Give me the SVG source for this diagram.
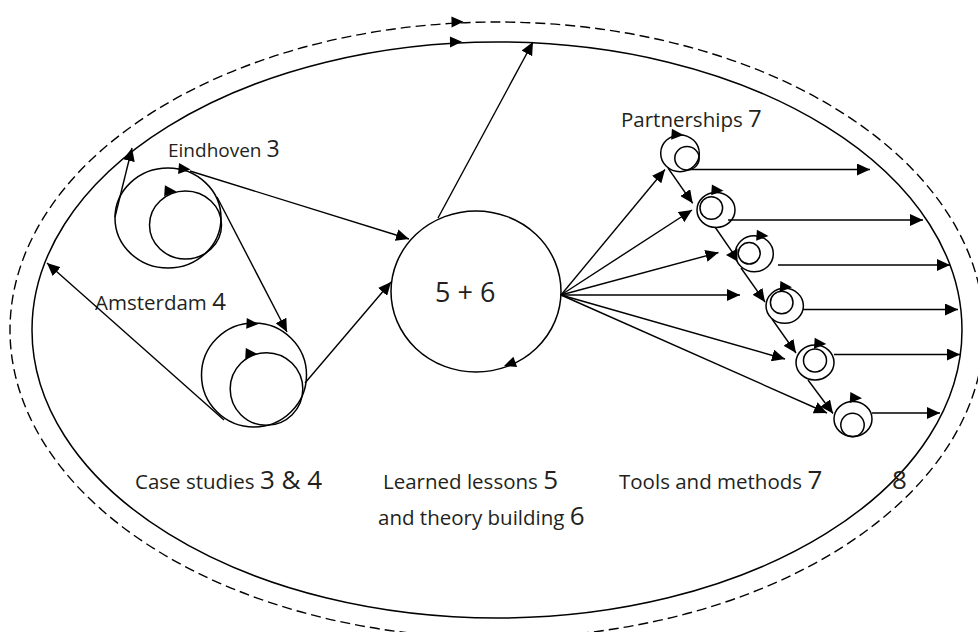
<svg xmlns="http://www.w3.org/2000/svg" width="978" height="632" viewBox="0 0 978 632">
  <style>
    .ln { fill: none; stroke: #000; stroke-width: 1.4; }
    .ring { fill: none; stroke: #000; stroke-width: 1.5; }
    .dash { fill: none; stroke: #000; stroke-width: 1.4; stroke-dasharray: 10 5; }
    .tri { fill: #000; }
    .lbl { font-family: "Open Sans", "Noto Sans", "Liberation Sans", sans-serif; font-size: 20.5px; fill: #231f20; }
    .num { font-size: 26px; }
  </style>
  <defs>
    <marker id="arrow" markerUnits="userSpaceOnUse" markerWidth="13" markerHeight="12" viewBox="0 0 13 12" refX="13" refY="6" orient="auto">
      <path d="M0,0 L13,6 L0,12 z" fill="#000"/>
    </marker>
    <!-- tangent arrowhead used on the loop circles, tip at origin, pointing +x -->
    <path id="head" d="M0,0 L-12,-5.5 L-12,5.5 z"/>
  </defs>
  <rect width="978" height="632" fill="#fff"/>

  <!-- enclosing boundaries -->
  <g id="boundary">
    <ellipse class="dash" cx="497" cy="330" rx="487" ry="308"/>
    <ellipse class="ring" cx="497" cy="330" rx="465" ry="288"/>
    <use href="#head" class="tri" transform="translate(463.5,21.8) rotate(-1)"/>
    <use href="#head" class="tri" transform="translate(462,41.8) rotate(-1)"/>
  </g>

  <!-- Eindhoven case study -->
  <g id="eindhoven">
    <ellipse class="ring" cx="168" cy="218" rx="53" ry="50"/>
    <ellipse class="ring" cx="185.5" cy="225" rx="36" ry="34"/>
    <use href="#head" class="tri" transform="translate(190.5,169.5) rotate(5)"/>
    <use href="#head" class="tri" transform="translate(176.5,191.5) rotate(4)"/>
    <text class="lbl" x="168" y="157" style="font-size:19px">Eindhoven <tspan class="num" style="font-size:23px">3</tspan></text>
  </g>

  <!-- Amsterdam case study -->
  <g id="amsterdam">
    <ellipse class="ring" cx="254" cy="375" rx="52.5" ry="52"/>
    <circle class="ring" cx="266.5" cy="389" r="36.3"/>
    <use href="#head" class="tri" transform="translate(258.5,324) rotate(3)"/>
    <use href="#head" class="tri" transform="translate(257.5,354) rotate(3)"/>
    <text class="lbl" x="95" y="310">Amsterdam <tspan class="num" style="font-size:24px">4</tspan></text>
  </g>

  <!-- learned lessons and theory building -->
  <g id="synthesis">
    <ellipse class="ring" cx="476" cy="291.5" rx="85" ry="80.5"/>
    <use href="#head" class="tri" transform="translate(504,366) rotate(160)"/>
    <text class="lbl" x="435" y="302" style="font-size:27px">5 + 6</text>
  </g>

  <!-- partnership loops -->
  <g id="partner-1">
    <ellipse class="ring" cx="680" cy="153.3" rx="19.3" ry="18.4"/>
    <ellipse class="ring" cx="687" cy="158.3" rx="12.2" ry="11.7"/>
    <use href="#head" class="tri" transform="translate(683.5,135) rotate(4)"/>
    <text class="lbl" x="621" y="127">Partnerships  <tspan class="num" style="font-size:24px">7</tspan></text>
  </g>
  <g id="partner-2">
    <ellipse class="ring" cx="716" cy="210" rx="19" ry="17.5"/>
    <circle class="ring" cx="711.3" cy="208" r="11.3"/>
    <use href="#head" class="tri" transform="translate(723.5,190.7) rotate(4)"/>
  </g>
  <g id="partner-3">
    <ellipse class="ring" cx="754.3" cy="253.8" rx="19" ry="18"/>
    <ellipse class="ring" cx="749.2" cy="253.3" rx="11" ry="10.7"/>
    <use href="#head" class="tri" transform="translate(768.5,236) rotate(4)"/>
  </g>
  <g id="partner-4">
    <ellipse class="ring" cx="784.7" cy="305.8" rx="18.7" ry="17.5"/>
    <circle class="ring" cx="781.7" cy="302.5" r="11.3"/>
    <use href="#head" class="tri" transform="translate(792,287.3) rotate(4)"/>
  </g>
  <g id="partner-5">
    <ellipse class="ring" cx="815" cy="362.5" rx="19" ry="17.5"/>
    <circle class="ring" cx="815" cy="360.5" r="11.5"/>
    <use href="#head" class="tri" transform="translate(826.3,344) rotate(4)"/>
  </g>
  <g id="partner-6">
    <ellipse class="ring" cx="853" cy="419" rx="19" ry="17.5"/>
    <circle class="ring" cx="852.5" cy="425" r="11.7"/>
    <use href="#head" class="tri" transform="translate(862,398.3) rotate(4)"/>
  </g>

  <!-- connectors -->
  <g id="connectors" class="ln" marker-end="url(#arrow)">
    <line x1="115" y1="217" x2="132" y2="148"/>
    <line x1="190" y1="171" x2="409" y2="239"/>
    <line x1="217" y1="197" x2="287" y2="332"/>
    <line x1="224" y1="420" x2="47" y2="263"/>
    <line x1="305" y1="383" x2="391" y2="282"/>
    <line x1="438" y1="218" x2="533" y2="42"/>

    <!-- fan out from the synthesis circle -->
    <line x1="561" y1="295" x2="665" y2="169.5"/>
    <line x1="561" y1="295" x2="692" y2="210"/>
    <line x1="561" y1="295" x2="718.5" y2="252.5"/>
    <line x1="561" y1="295" x2="740" y2="295"/>
    <line x1="561" y1="295" x2="785" y2="359"/>
    <line x1="561" y1="295" x2="827" y2="413"/>

    <!-- chain between partnership loops -->
    <line x1="668" y1="168" x2="692.7" y2="203.3"/>
    <line x1="715" y1="227" x2="735" y2="256" marker-end="none"/>
    <line x1="741" y1="268" x2="765" y2="302"/>
    <line x1="772" y1="319" x2="796" y2="353"/>
    <line x1="808" y1="380" x2="833" y2="413.5"/>

    <!-- outputs towards the boundary -->
    <line x1="688" y1="169.5" x2="870" y2="169.5"/>
    <line x1="728" y1="220" x2="923" y2="220"/>
    <line x1="778" y1="265" x2="950" y2="265"/>
    <line x1="803" y1="309.5" x2="958" y2="309.5"/>
    <line x1="834" y1="354.5" x2="960" y2="354.5"/>
    <line x1="872" y1="413" x2="940" y2="413"/>
  </g>
  <polygon class="tri" points="726,255 737.5,248.5 737.5,261.5"/>

  <!-- phase labels -->
  <g id="labels">
    <text class="lbl" x="135" y="489">Case studies <tspan class="num">3 &amp; 4</tspan></text>
    <text class="lbl" x="383" y="489">Learned lessons <tspan class="num">5</tspan></text>
    <text class="lbl" x="378" y="525">and theory building <tspan class="num">6</tspan></text>
    <text class="lbl" x="619" y="489">Tools and methods  <tspan class="num">7</tspan></text>
    <text class="lbl num" x="892" y="489">8</text>
  </g>
</svg>
